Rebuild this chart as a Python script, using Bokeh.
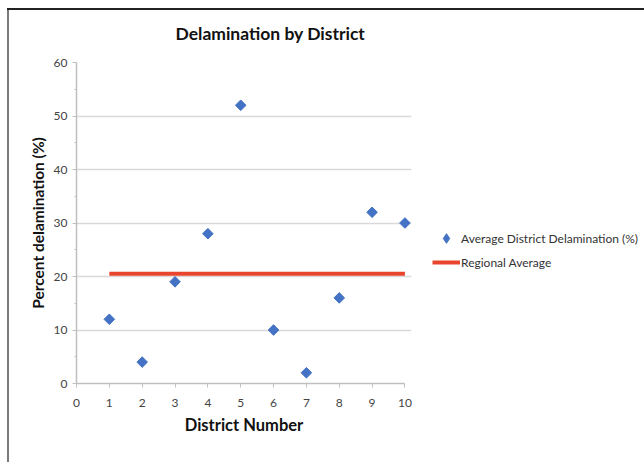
import math
from bokeh.plotting import figure
from bokeh.models import Range1d, Legend, LegendItem, Title, FixedTicker
from bokeh.embed import file_html
from bokeh.resources import INLINE

# Data
districts = [1, 2, 3, 4, 5, 6, 7, 8, 9, 10]
delamination = [12, 4, 19, 28, 52, 10, 2, 16, 32, 30]
avg_x = [1, 10]
avg_y = [20.5, 20.5]
x_ticks = [0, 1, 2, 3, 4, 5, 6, 7, 8, 9, 10]
y_ticks = [0, 10, 20, 30, 40, 50, 60]
y_minor = [5, 15, 25, 35, 45, 55]

FONT = "Lato"
BLUE = "#4472C4"
RED = "#E8452C"

p = figure(frame_width=335, frame_height=321,
           x_range=Range1d(0, 10.2), y_range=Range1d(0, 60),
           output_backend="svg", toolbar_location=None,
           width=644, height=462,
           min_border_left=76, min_border_right=233,
           min_border_top=62, min_border_bottom=79)
p.border_fill_alpha = 0
p.styles = {
    "background": ("linear-gradient(#222222,#222222) 7px 8px / 100% 2px no-repeat, "
                   "linear-gradient(#7a7a7a,#7a7a7a) 7px 8px / 2px 100% no-repeat, white"),
}
p.outline_line_color = None
p.background_fill_color = "white"

t = Title(text="Delamination by District", align="left", offset=99,
          text_font=FONT, text_font_size="17.5px", text_font_style="bold",
          text_color="#111111", standoff=38)
p.add_layout(t, "above")

# legend swatch renderer (hidden under the points; legend swatches ignore angle)
r_swatch = p.scatter(districts, delamination, marker="diamond", size=9, color=BLUE)
r_pts = p.scatter(districts, delamination, marker="square", size=7.5,
                  angle=math.pi / 4, color=BLUE)
r_line = p.line(avg_x, avg_y, line_color=RED, line_width=4)

# Axes
p.xaxis.bounds = (0, 10)
p.xaxis.ticker = FixedTicker(ticks=x_ticks)
p.yaxis.ticker = FixedTicker(ticks=y_ticks, minor_ticks=y_minor)
for ax in (p.xaxis, p.yaxis):
    ax.axis_line_color = "#bfbfbf"
    ax.axis_line_width = 1.5
    ax.major_tick_line_color = "#bfbfbf"
    ax.minor_tick_line_color = "#bfbfbf"
    ax.major_label_text_font = FONT
    ax.major_label_text_font_size = "12px"
    ax.major_label_text_color = "#444444"
    ax.axis_label_text_font = FONT
    ax.axis_label_text_font_style = "bold"
    ax.axis_label_text_color = "#111111"
p.xaxis.major_tick_in = 0
p.xaxis.major_tick_out = 4
p.xaxis.minor_tick_out = 0
p.xaxis.minor_tick_in = 0
p.xaxis.major_label_standoff = 11
p.xaxis.axis_label = "District Number"
p.xaxis.axis_label_text_font_size = "16.5px"
p.xaxis.axis_label_standoff = 5
p.yaxis.major_tick_in = 0
p.yaxis.major_tick_out = 4
p.yaxis.minor_tick_in = 0
p.yaxis.minor_tick_out = 2
p.yaxis.major_label_standoff = 5
p.yaxis.axis_label = "Percent delamination (%)"
p.yaxis.axis_label_text_font_size = "15.5px"
p.yaxis.axis_label_standoff = 4

p.xgrid.grid_line_color = None
p.ygrid.grid_line_color = "#d9d9d9"
p.ygrid.grid_line_width = 1.5

legend = Legend(items=[
    LegendItem(label="Average District Delamination (%)", renderers=[r_swatch]),
    LegendItem(label="Regional Average", renderers=[r_line]),
], location=(21, 109))
legend.label_text_font = FONT
legend.label_text_font_size = "12px"
legend.label_text_color = "#333333"
legend.glyph_width = 28
legend.glyph_height = 24
legend.label_height = 20
legend.spacing = 0
legend.padding = 0
legend.margin = 0
legend.label_standoff = 1
legend.border_line_color = None
legend.background_fill_alpha = 0
p.add_layout(legend, "right")

open("out.html", "w").write(file_html(p, INLINE))
